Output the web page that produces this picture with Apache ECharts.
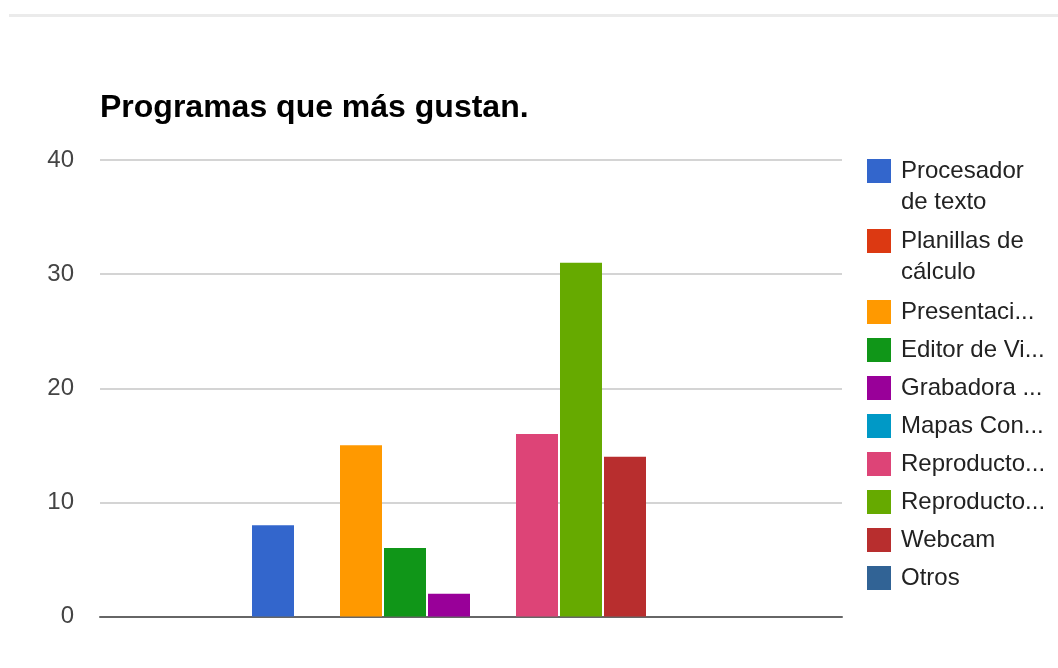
<!DOCTYPE html>
<html>
<head>
<meta charset="utf-8">
<script src="https://cdn.jsdelivr.net/npm/echarts@6/dist/echarts.min.js"></script>
<style>
html,body{margin:0;padding:0;background:#fff;}
#chart{width:1058px;height:668px;}
</style>
</head>
<body>
<div id="chart"></div>
<script>
const categories = [''];
const seriesNames = ['Procesador de texto', 'Planillas de cálculo', 'Presentaciones', 'Editor de Video', 'Grabadora de sonido', 'Mapas Conceptuales', 'Reproductor de audio', 'Reproductor de video', 'Webcam', 'Otros'];
const legendLabels = ['Procesador\nde texto', 'Planillas de\ncálculo', 'Presentaci...', 'Editor de Vi...', 'Grabadora ...', 'Mapas Con...', 'Reproducto...', 'Reproducto...', 'Webcam', 'Otros'];
const seriesValues = [8, 0, 15, 6, 2, 0, 16, 31, 14, 0];
const seriesColors = ['#3366cc', '#dc3912', '#ff9900', '#109618', '#990099', '#0099c6', '#dd4477', '#66aa00', '#b82e2e', '#316395'];
const yTicks = [0, 10, 20, 30, 40];
const legendIconTops = [159, 229, 300, 338, 376, 414, 452, 490, 528, 566];

const FONT = "'Liberation Sans', Arial, sans-serif";
const LH = 31;
const LFS = 24;

const chart = echarts.init(document.getElementById('chart'));

const legends = seriesNames.map((name, i) => {
  const lines = legendLabels[i].split('\n');
  const wrapped = lines.length > 1;
  return {
    orient: 'vertical',
    left: 867,
    top: legendIconTops[i] - (wrapped ? (LH * 3 / 2 - 12) : (LH / 2 - 12)),
    padding: 0,
    itemWidth: 24,
    itemHeight: 24,
    itemGap: 0,
    icon: 'rect',
    selectedMode: false,
    formatter: n => legendLabels[seriesNames.indexOf(n)].split('\n').map(s => '{t|' + s + '}').join('\n'),
    textStyle: {
      fontFamily: FONT,
      fontSize: LFS,
      color: '#222',
      lineHeight: LH,
      padding: wrapped ? [LH, 0, 0, 5] : [0, 0, 0, 5],
      rich: {
        t: { fontFamily: FONT, fontSize: LFS, color: '#222', lineHeight: LH }
      }
    },
    data: [{ name: name }]
  };
});

const option = {
  backgroundColor: '#fff',
  animation: false,
  title: {
    text: 'Programas que más gustan.',
    left: 100,
    top: 92,
    padding: 0,
    textStyle: { fontFamily: FONT, fontSize: 32, fontWeight: 'bold', color: '#000' }
  },
  graphic: [{
    type: 'line',
    shape: { x1: 9, y1: 15.5, x2: 1058, y2: 15.5 },
    style: { stroke: '#ebebeb', lineWidth: 3 }
  }],
  legend: legends,
  grid: { left: 100, right: 216, top: 160, bottom: 51.5, containLabel: false },
  xAxis: {
    type: 'category',
    data: categories,
    axisLine: { show: true, lineStyle: { color: '#666', width: 2 } },
    axisTick: { show: false },
    axisLabel: { show: false },
    splitLine: { show: false }
  },
  yAxis: {
    type: 'value',
    min: yTicks[0],
    max: yTicks[yTicks.length - 1],
    interval: 10,
    axisLine: { show: false },
    axisTick: { show: false },
    axisLabel: { fontFamily: FONT, fontSize: 24, color: '#444', margin: 26 },
    splitLine: { lineStyle: { color: '#d4d4d4', width: 2 } }
  },
  series: seriesNames.map((name, i) => ({
    name: name,
    type: 'bar',
    data: [seriesValues[i]],
    barWidth: 42,
    barGap: '4.76%',
    itemStyle: { color: seriesColors[i] },
    z: 1
  }))
};

chart.setOption(option);
</script>
</body>
</html>
